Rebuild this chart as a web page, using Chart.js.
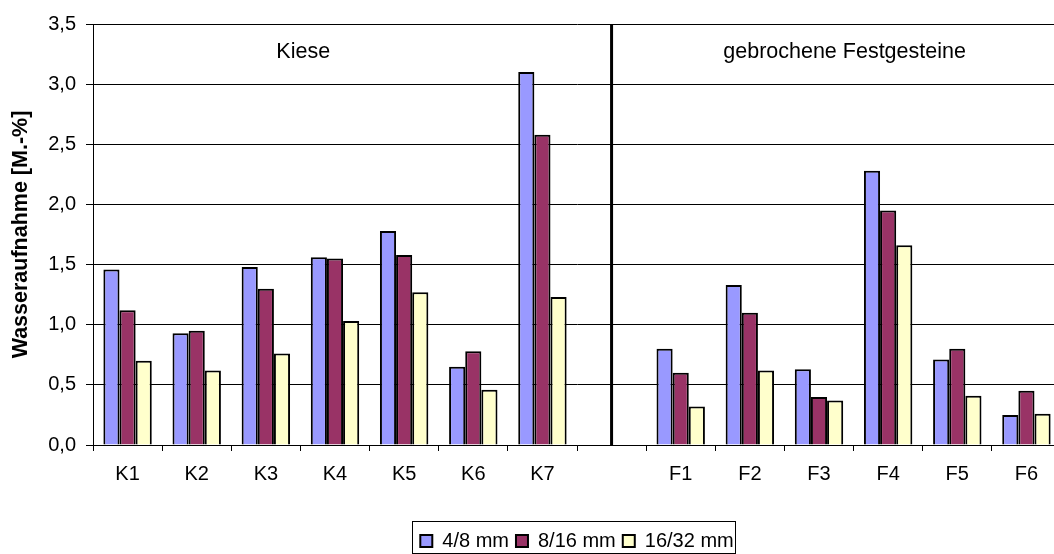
<!DOCTYPE html>
<html>
<head>
<meta charset="utf-8">
<script src="https://cdn.jsdelivr.net/npm/chart.js@4"></script>
<style>
html,body{margin:0;padding:0;background:#fff;overflow:hidden;width:1054px;height:554px;}
#wrap{position:absolute;left:0;top:0;width:1140px;height:554px;}
</style>
</head>
<body>
<div id="wrap"><canvas id="c" width="1140" height="554"></canvas></div>
<script>
const categories = ['K1','K2','K3','K4','K5','K6','K7','','F1','F2','F3','F4','F5','F6'];
const s48   = [1.46,0.93,1.48,1.56,1.78,0.65,3.10,null,0.80,1.33,0.63,2.28,0.71,0.25];
const s816  = [1.12,0.95,1.30,1.55,1.58,0.78,2.58,null,0.60,1.10,0.40,1.95,0.80,0.45];
const s1632 = [0.70,0.62,0.76,1.03,1.27,0.46,1.23,null,0.32,0.62,0.37,1.66,0.41,0.26];
const seriesNames = ['4/8 mm','8/16 mm','16/32 mm'];
const yTickLabels = ['0,0','0,5','1,0','1,5','2,0','2,5','3,0','3,5'];
const groupLabels = [{text:'Kiese', at:2.54},{text:'gebrochene Festgesteine', at:10.37}];
const dividerAt = 7;

const FONT = "'Liberation Sans', Arial, sans-serif";

const extras = {
  id:'extras',
  afterDatasetsDraw(chart){
    const ctx = chart.ctx, x = chart.scales.x, a = chart.chartArea;
    ctx.save();
    const dx = x.getPixelForValue(dividerAt);
    ctx.strokeStyle = '#000'; ctx.lineWidth = 3;
    ctx.beginPath(); ctx.moveTo(dx, a.top); ctx.lineTo(dx, a.bottom); ctx.stroke();
    ctx.fillStyle = '#000'; ctx.font = '21.5px ' + FONT;
    ctx.textAlign = 'center'; ctx.textBaseline = 'middle';
    const step = x.getPixelForValue(1) - x.getPixelForValue(0);
    groupLabels.forEach(g => {
      const px = x.getPixelForValue(0) + step * g.at;
      ctx.fillText(g.text, px, a.top + 28);
    });
    ctx.restore();
  },
  afterDraw(chart){
    const lg = chart.legend;
    if(!lg || !lg.legendHitBoxes || !lg.legendHitBoxes.length) return;
    const hb = lg.legendHitBoxes;
    let l = Infinity, r = -Infinity, t = Infinity, b = -Infinity;
    hb.forEach(h => { l = Math.min(l,h.left); r = Math.max(r,h.left+h.width); t = Math.min(t,h.top); b = Math.max(b,h.top+h.height); });
    const cy = (t + b) / 2;
    const ctx = chart.ctx;
    ctx.save(); ctx.strokeStyle = '#000'; ctx.lineWidth = 1;
    ctx.strokeRect(Math.round(l-8)+0.5, Math.round(cy-20)+0.5, Math.round(r-l+10), 32);
    ctx.restore();
  }
};

new Chart(document.getElementById('c'), {
  type:'bar',
  data:{
    labels: categories,
    datasets:[
      {label:seriesNames[0], data:s48,   backgroundColor:'#9999FF', borderColor:'#000', borderWidth:2},
      {label:seriesNames[1], data:s816,  backgroundColor:'#993366', borderColor:'#000', borderWidth:2},
      {label:seriesNames[2], data:s1632, backgroundColor:'#FFFFCC', borderColor:'#000', borderWidth:2}
    ]
  },
  options:{
    responsive:false,
    animation:false,
    layout:{padding:{left:0, right:79, top:24, bottom:-7}},
    datasets:{bar:{categoryPercentage:0.7, barPercentage:1.0}},
    plugins:{
      legend:{
        position:'bottom',
        fullSize:false,
        labels:{font:{family:FONT, size:20}, color:'#000', boxWidth:12, boxHeight:12, padding:7}
      },
      tooltip:{enabled:false}
    },
    scales:{
      x:{
        grid:{display:true, drawOnChartArea:false, offset:true, tickLength:6, color:'#000'},
        border:{color:'#000', width:1},
        ticks:{font:{family:FONT, size:20}, color:'#000', padding:11, maxRotation:0, autoSkip:false},
        afterFit(s){ s.height = 79; }
      },
      y:{
        min:0, max:3.5,
        grid:{color:'#000', lineWidth:1, tickLength:7},
        border:{color:'#000', width:1},
        ticks:{stepSize:0.5, font:{family:FONT, size:20}, color:'#000', padding:10,
               callback:(v,i)=>yTickLabels[i]},
        title:{display:true, text:'Wasseraufnahme [M.-%]', font:{family:FONT, size:21.5, weight:'bold'}, color:'#000', padding:{top:8,bottom:0}},
        afterFit(s){ s.width = 93; }
      }
    }
  },
  plugins:[extras]
});
</script>
</body>
</html>
